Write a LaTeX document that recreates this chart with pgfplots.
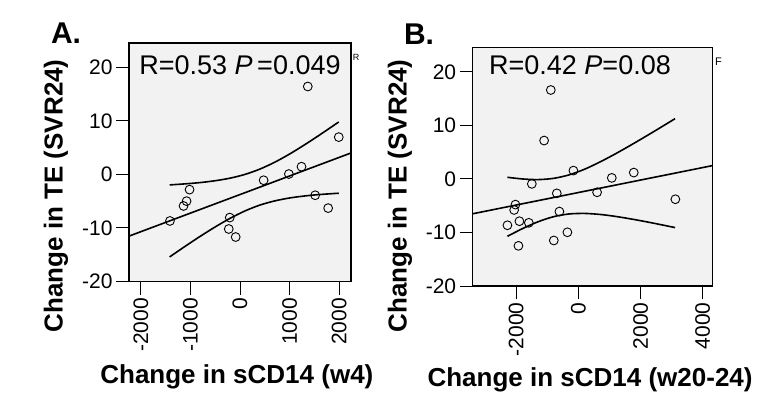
\documentclass[border=0pt]{standalone}
\usepackage{pgfplots}
\pgfplotsset{compat=1.18}
\usepackage{fontspec}
\setmainfont{Liberation Sans}
\definecolor{bgc}{HTML}{F2F2F2}
\pgfplotsset{
  myax/.style={
    scale only axis,
    axis background/.style={fill=bgc},
    axis line style={line width=1.3pt},
    every tick/.style={black, line width=1pt},
    major tick length=13pt,
    tick align=outside,
    xtick pos=left, ytick pos=left,
    /pgf/number format/assume math mode=true,
    /pgf/number format/1000 sep={},
    ticklabel style={font=\fontsize{21}{23}\selectfont},
    xticklabel style={rotate=90, anchor=east},
    ymin=-20, ymax=24.5,
    ytick={-20,-10,0,10,20},
    clip=false,
    ylabel={Change in TE (SVR24)},
  },
  sc/.style={only marks, mark=o, mark size=4.4pt, mark options={black, line width=0.9pt}},
  rl/.style={black, line width=1.6pt, no marks},
  ci/.style={black, line width=1.6pt, no marks, smooth},
}
\begin{document}
\begin{tikzpicture}
\useasboundingbox (0,0) rectangle (782pt,418pt);
\begin{axis}[myax, at={(129pt,136.5pt)}, anchor=south west,
  width=222pt, height=238.4pt,
  xmin=-2240, xmax=2240, xtick={-2000,-1000,0,1000,2000},
  xlabel={Change in sCD14 (w4)},
  every axis x label/.style={at={(axis description cs:0.486,-0.40)}, anchor=center, font=\bfseries\fontsize{26}{30}\selectfont},
  every axis y label/.style={at={(axis description cs:-0.329,0.359)}, anchor=center, rotate=90, font=\bfseries\fontsize{26}{30}\selectfont},
]
\addplot[sc] coordinates {(-1414,-8.7) (-1139,-5.9) (-1078,-5.0) (-1018,-2.85) (-207,-8.07) (-227,-10.2) (-87,-11.7) (477,-1.1) (986,0.06) (1241,1.43) (1368,16.4) (1517,-3.9) (1779,-6.3) (1993,6.95)};
\addplot[rl] coordinates {(-2240,-11.53) (2240,3.99)};
\addplot[ci] coordinates {(-1420,-1.97) (-1100,-1.77) (-800,-1.53) (-500,-1.19) (-200,-0.71) (100,-0.01) (400,0.98) (700,2.26) (1000,3.79) (1300,5.50) (1600,7.31) (1993,9.78)};
\addplot[ci] coordinates {(-1420,-15.41) (-1100,-13.39) (-800,-11.55) (-500,-9.81) (-200,-8.21) (100,-6.83) (400,-5.74) (700,-4.96) (1000,-4.41) (1300,-4.04) (1600,-3.77) (1993,-3.52)};
\node[font=\fontsize{27}{30}\selectfont] at (axis description cs:0.5,0.908) {R=0.53 \textit{P}\,=0.049};
\end{axis}
\begin{axis}[myax, at={(472.7pt,132pt)}, anchor=south west,
  width=240pt, height=238.3pt,
  xmin=-3400, xmax=4320, xtick={-2000,0,2000,4000},
  xlabel={Change in sCD14 (w20-24)},
  every axis x label/.style={at={(axis description cs:0.489,-0.394)}, anchor=center, font=\bfseries\fontsize{26}{30}\selectfont},
  every axis y label/.style={at={(axis description cs:-0.303,0.378)}, anchor=center, rotate=90, font=\bfseries\fontsize{26}{30}\selectfont},
]
\addplot[sc] coordinates {(-888,16.6) (-1103,7.16) (-161,1.55) (-1498,-0.93) (-695,-2.7) (1074,0.19) (1781,1.18) (601,-2.5) (3119,-3.8) (-2026,-4.8) (-2067,-5.8) (-611,-6.1) (-2283,-8.66) (-1897,-7.9) (-1595,-8.2) (-354,-9.97) (-791,-11.5) (-1929,-12.5)};
\addplot[rl] coordinates {(-3400,-6.51) (4320,2.49)};
\addplot[ci] coordinates {(-2283,0.30) (-1800,-0.01) (-1300,-0.13) (-800,0.10) (-300,0.75) (200,1.81) (700,3.18) (1200,4.71) (1800,6.69) (2400,8.75) (3110,11.25)};
\addplot[ci] coordinates {(-2283,-10.72) (-1800,-9.29) (-1300,-8.01) (-800,-7.06) (-300,-6.55) (200,-6.45) (700,-6.64) (1200,-7.01) (1800,-7.59) (2400,-8.25) (3110,-9.09)};
\node[font=\fontsize{27}{30}\selectfont] at (axis description cs:0.447,0.927) {R=0.42 \textit{P}=0.08};
\end{axis}
\node[font=\bfseries\fontsize{30}{32}\selectfont] at (66pt,385pt) {A.};
\node[font=\bfseries\fontsize{30}{32}\selectfont] at (419pt,384pt) {B.};
\node[font=\fontsize{9}{10}\selectfont] at (356pt,361pt) {R};
\node[font=\fontsize{11}{12}\selectfont] at (718.5pt,356pt) {F};
\end{tikzpicture}
\end{document}
